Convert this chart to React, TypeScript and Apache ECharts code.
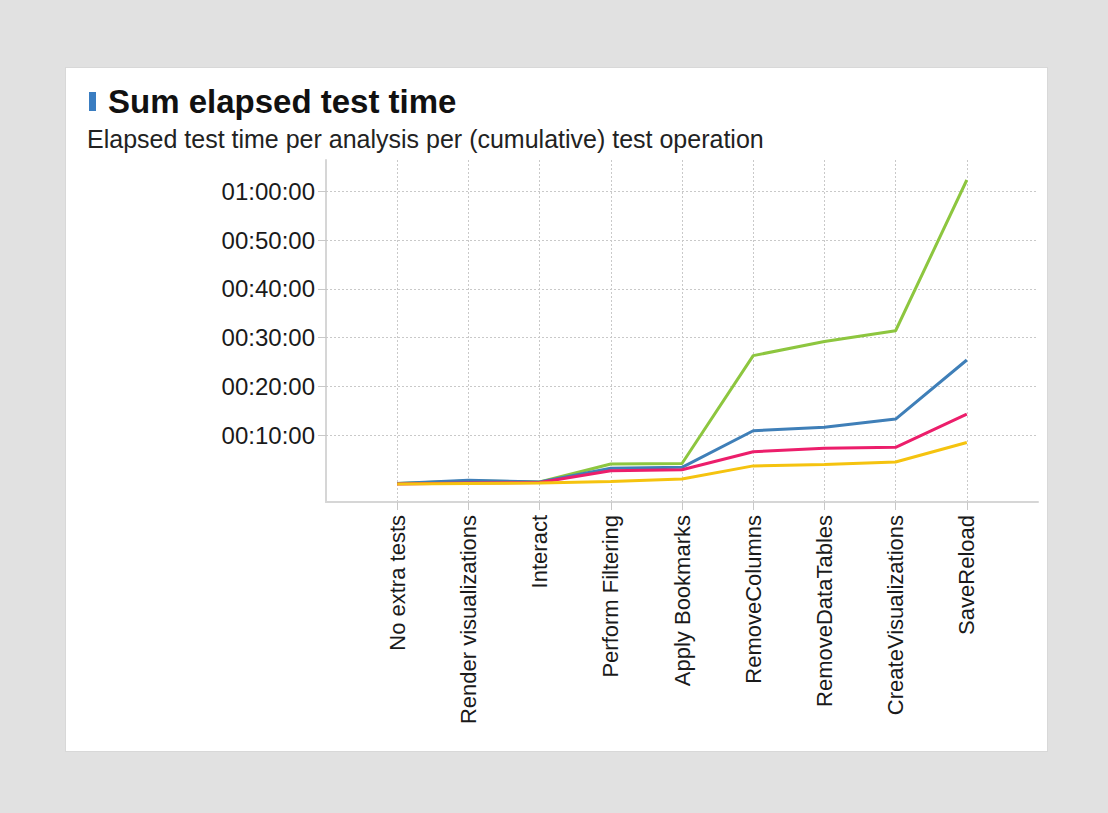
import React, { useEffect, useRef } from "react";
import * as echarts from "echarts";

const categories = [
  "No extra tests",
  "Render visualizations",
  "Interact",
  "Perform Filtering",
  "Apply Bookmarks",
  "RemoveColumns",
  "RemoveDataTables",
  "CreateVisualizations",
  "SaveReload",
];

// elapsed time in minutes
const greenValues = [0.1, 0.6, 0.4, 4.1, 4.2, 26.3, 29.2, 31.4, 62.3];
const blueValues = [0.1, 0.75, 0.4, 3.2, 3.4, 10.9, 11.6, 13.3, 25.4];
const pinkValues = [0.0, 0.2, 0.3, 2.7, 2.9, 6.6, 7.3, 7.5, 14.3];
const yellowValues = [0.0, 0.1, 0.2, 0.5, 1.0, 3.7, 4.0, 4.5, 8.5];

const yTicks = [10, 20, 30, 40, 50, 60];

const seriesNames = ["Analysis 1", "Analysis 2", "Analysis 3", "Analysis 4"];
const seriesColors = ["#8dc63f", "#3f7fb8", "#ec1e6b", "#f5c30f"];

const FONT = "'Liberation Sans', Arial, sans-serif";

function fmt(v: number): string {
  const h = Math.floor(v / 60);
  const m = Math.round(v - h * 60);
  const p = (n: number) => (n < 10 ? "0" + n : "" + n);
  return `${p(h)}:${p(m)}:00`;
}

export default function App() {
  const ref = useRef<HTMLDivElement>(null);
  useEffect(() => {
    if (!ref.current) return;
    const chart = echarts.init(ref.current, undefined, { renderer: "svg" });
    const padCats = ["", ...categories, ""];
    const pad = (arr: number[]) => [null, ...arr, null];
    const allSeries = [greenValues, blueValues, pinkValues, yellowValues];
    const gridLineStyle = { color: "#c9c9c9", width: 1, type: [2, 2] as any };
    chart.setOption({
      animation: false,
      backgroundColor: "transparent",
      graphic: [
        {
          type: "rect",
          shape: { x: 89, y: 92, width: 7, height: 19 },
          style: { fill: "#3a7dc1" },
        },
        {
          type: "text",
          x: 108,
          y: 101,
          style: {
            text: "Sum elapsed test time",
            font: `bold 33px ${FONT}`,
            fill: "#111",
            verticalAlign: "middle",
          },
        },
        {
          type: "text",
          x: 87,
          y: 139,
          style: {
            text: "Elapsed test time per analysis per (cumulative) test operation",
            font: `25px ${FONT}`,
            fill: "#222",
            verticalAlign: "middle",
          },
        },
      ],
      grid: { left: 326, right: 1108 - 1038, top: 160, bottom: 813 - 502 },
      xAxis: {
        type: "category",
        data: padCats,
        boundaryGap: false,
        axisLine: { onZero: false, lineStyle: { color: "#d6d6d6", width: 2 } },
        axisTick: {
          length: 8,
          lineStyle: { color: "#c8c8c8" },
          interval: (i: number) => i > 0 && i < padCats.length - 1,
        },
        axisLabel: {
          rotate: 90,
          margin: 13,
          interval: 0,
          color: "#1a1a1a",
          fontFamily: FONT,
          fontSize: 22,
        },
        splitLine: {
          show: true,
          interval: (i: number) => i > 0 && i < padCats.length - 1,
          lineStyle: gridLineStyle,
        },
      },
      yAxis: {
        type: "value",
        min: -3.7,
        max: 66.4,
        axisLine: { show: true, onZero: false, lineStyle: { color: "#d6d6d6", width: 2 } },
        axisTick: {
          show: true,
          length: 8,
          customValues: yTicks,
          lineStyle: { color: "#c8c8c8" },
        },
        axisLabel: {
          customValues: yTicks,
          margin: 11,
          color: "#1a1a1a",
          fontFamily: FONT,
          fontSize: 24,
          formatter: (v: number) => fmt(v),
        },
        splitLine: { show: false },
      },
      series: allSeries.map((vals, i) => ({
        type: "line",
        name: seriesNames[i],
        data: pad(vals),
        showSymbol: false,
        symbol: "none",
        connectNulls: false,
        lineStyle: { color: seriesColors[i], width: 3 },
        itemStyle: { color: seriesColors[i] },
        z: 3 + i,
        markLine:
          i === 0
            ? {
                silent: true,
                symbol: "none",
                label: { show: false },
                lineStyle: gridLineStyle,
                z: 1,
                data: yTicks.map((v) => ({ yAxis: v })),
              }
            : undefined,
      })),
    });
    return () => chart.dispose();
  }, []);
  return (
    <div
      style={{
        position: "absolute",
        left: 0,
        top: 0,
        width: 1108,
        height: 813,
        background: "#e1e1e1",
      }}
    >
      <div
        style={{
          position: "absolute",
          left: 65,
          top: 67,
          width: 983,
          height: 685,
          background: "#ffffff",
          boxSizing: "border-box",
          border: "1px solid #d8d8d8",
        }}
      />
      <div
        ref={ref}
        style={{ position: "absolute", left: 0, top: 0, width: 1108, height: 813 }}
      />
    </div>
  );
}
